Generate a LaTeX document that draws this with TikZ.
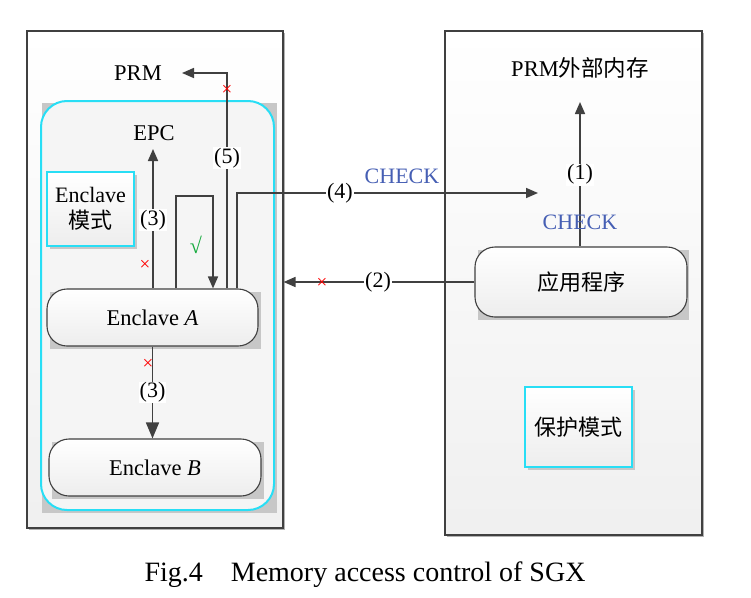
\documentclass[tikz,border=0pt]{standalone}
\usepackage{fontspec}
\setmainfont{Liberation Serif}
\newfontfamily\cjk{Noto Sans CJK SC}
\usetikzlibrary{arrows.meta}
\definecolor{cyanc}{RGB}{40,222,245}
\definecolor{linec}{RGB}{64,64,64}
\definecolor{checkblue}{RGB}{70,95,180}
\definecolor{okgreen}{RGB}{20,170,60}
\tikzset{
  txt/.style={font=\fontsize{22.5}{24}\selectfont, inner sep=1pt},
  roundnode/.style={draw=linec, line width=1.1pt, rounded corners=20pt, top color=white, bottom color=black!7, font=\fontsize{22.5}{24}\selectfont, inner sep=0pt},
  modebox/.style={draw=cyanc, line width=1.3pt, top color=white, bottom color=black!7, font=\fontsize{22}{26}\selectfont, align=center, inner sep=0pt},
  conn/.style={draw=linec, line width=1.6pt},
  tip/.style={-{Triangle[length=12pt,width=10pt]}},
  bigtip/.style={-{Triangle[length=16pt,width=13pt]}},
  lbl/.style={fill=white, inner sep=1pt, font=\fontsize{22}{24}\selectfont},
  xmark/.style={text=red, font=\fontsize{19}{19}\selectfont, inner sep=0pt},
  bluetxt/.style={text=checkblue, font=\fontsize{22}{24}\selectfont, inner sep=1pt},
}
\begin{document}
\begin{tikzpicture}[x=1pt,y=-1pt]
\useasboundingbox (0,0) rectangle (751,597);
\fill[white] (0,0) rectangle (751,597);
% outer boxes with shadows
\fill[black!30] (29,33) rectangle (285,530);
\node[draw=linec, line width=1.1pt, top color=white, bottom color=black!6, minimum width=256pt, minimum height=497pt, inner sep=0pt] (leftbox) at (155,279.5) {};
\fill[black!30] (447,33) rectangle (704,537);
\node[draw=linec, line width=1.1pt, top color=white, bottom color=black!6, minimum width=257pt, minimum height=504pt, inner sep=0pt] (rightbox) at (573.5,283) {};
% cyan enclave region
\fill[black!22] (42,103) rectangle (277,513);
\node[draw=cyanc, line width=2pt, rounded corners=26pt, fill=black!4, minimum width=233pt, minimum height=409pt, inner sep=0pt] (epcregion) at (157.5,305.5) {};
% texts
\node[txt] (prm) at (138,73) {PRM};
\node[txt] (epc) at (154,133) {EPC};
\node[txt] (prmext) at (580,68) {PRM{\cjk 外部内存}};
% mode boxes
\fill[black!22] (50,175) rectangle (137,249);
\node[modebox, minimum width=87pt, minimum height=74pt] (encmode) at (90.5,209) {Enclave\\{\cjk 模式}};
\fill[black!22] (528,390) rectangle (635,470);
\node[modebox, minimum width=107pt, minimum height=80pt] (protmode) at (578.5,427) {\cjk 保护模式};
% rounded nodes
\fill[black!22] (50,292) rectangle (261,349);
\node[roundnode, minimum width=211pt, minimum height=57pt] (encA) at (152.5,317.5) {Enclave \textit{A}};
\fill[black!22] (52,442) rectangle (264,499);
\node[roundnode, minimum width=212pt, minimum height=57pt] (encB) at (155,467.5) {Enclave \textit{B}};
\fill[black!22] (478,250) rectangle (689,320);
\node[roundnode, minimum width=212pt, minimum height=70pt, font=\cjk\fontsize{22}{24}\selectfont] (app) at (581,282) {应用程序};
% coordinates
\coordinate (epctip) at (153,149);
\coordinate (lp1) at (176,196);
\coordinate (lp2) at (213,196);
\coordinate (c5) at (227,73);
\coordinate (c5e) at (182,73);
\coordinate (c4) at (237,193);
\coordinate (c4e) at (538,193);
\coordinate (c1) at (580,102);
% connectors
\draw[conn,tip] (encA.north -| epctip) -- node[lbl, pos=0.49]{(3)} (epctip);
\draw[conn,tip] (encA.north -| lp1) -- (lp1) -- (lp2) -- (encA.north -| lp2);
\draw[conn,tip] (encA.north -| c5) -- node[lbl, pos=0.605]{(5)} (c5) -- (c5e);
\draw[conn,tip] (encA.north -| c4) -- (c4) -- node[lbl, pos=0.342]{(4)} (c4e);
\draw[conn,tip] (app.west) -- node[lbl, pos=0.505]{(2)} (app.west -| leftbox.east);
\draw[conn,tip] (app.north -| c1) -- node[lbl, pos=0.497]{(1)} (c1);
\draw[conn,bigtip] (encA.south) -- node[lbl, pos=0.50]{(3)} (encA.south |- encB.north);
% marks
\node[xmark] (x1) at (145,265) {×};
\node[xmark] (x2) at (227,90) {×};
\node[xmark] (x3) at (148,364) {×};
\node[xmark] (x4) at (322,283) {×};
\node[text=okgreen, font=\fontsize{22}{22}\selectfont, inner sep=0pt] (ok) at (196,245) {√};
\node[bluetxt] (chk1) at (402,176) {CHECK};
\node[bluetxt] (chk2) at (580,222) {CHECK};
% caption
\node[font=\fontsize{28}{30}\selectfont, inner sep=0pt] (caption) at (365,575) {Fig.4\hspace{1.0em}Memory access control of SGX};
\end{tikzpicture}
\end{document}
